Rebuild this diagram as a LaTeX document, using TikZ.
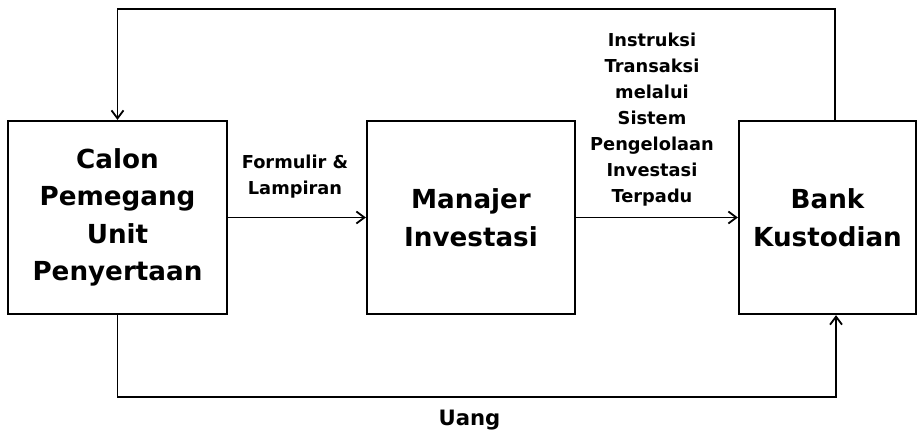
\documentclass[tikz,border=0pt]{standalone}
\usepackage{fontspec}
\setmainfont{DejaVu Sans}
\usetikzlibrary{arrows.meta}
\tikzset{
  box/.style={draw, line width=2.3pt, inner sep=0pt, align=center,
    font=\fontsize{26.2}{37.5}\selectfont\bfseries},
  lbl/.style={inner sep=0pt, align=center, font=\fontsize{17.8}{26}\selectfont\bfseries},
  conn/.style={line width=1.8pt, -{Straight Barb[length=8pt,width=12pt,line width=1.8pt]}},
}
\begin{document}
\begin{tikzpicture}[x=1pt,y=-1pt]
\useasboundingbox (0,0) rectangle (923,433);
\node[box, minimum width=219pt, minimum height=193pt] (L) at (117.5,217.5) {Calon\\Pemegang\\Unit\\Penyertaan};
\node[box, minimum width=208pt, minimum height=193pt] (M) at (471,217.5) {Manajer\\Investasi};
\node[box, minimum width=177pt, minimum height=193pt] (R) at (827.5,217.5) {Bank\\Kustodian};
\coordinate (top) at (476,9);
\coordinate (bot) at (476,397);
\draw[conn] (L.east) -- (M.west);
\draw[conn] (M.east) -- (R.west);
\draw[conn] ([xshift=7.5pt]R.north) |- (top) -| (L.north);
\draw[conn] (L.south) |- (bot) -| ([xshift=8.5pt]R.south);
\node[lbl] (f) at (295,177) {Formulir \&\\Lampiran};
\node[lbl] (i) at (652,120) {Instruksi\\Transaksi\\melalui\\Sistem\\Pengelolaan\\Investasi\\Terpadu};
\node[lbl, font=\fontsize{21.2}{26}\selectfont\bfseries] (u) at (469.5,420.5) {Uang};
\end{tikzpicture}
\end{document}
